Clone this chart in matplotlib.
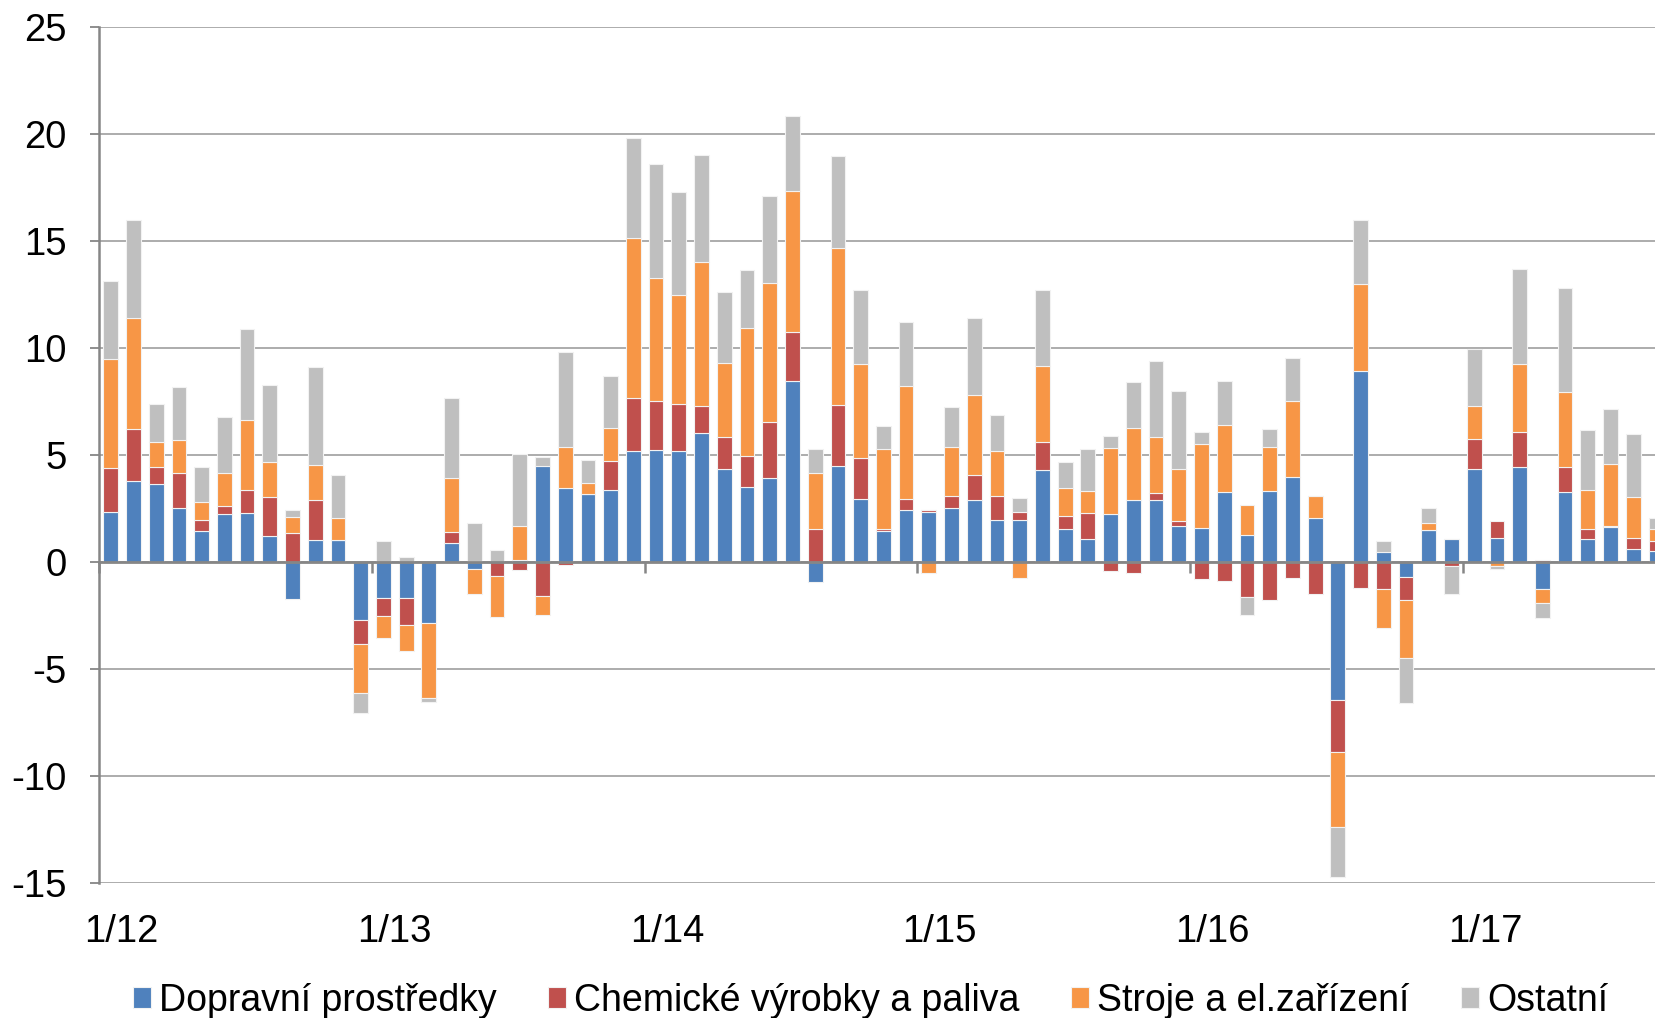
import numpy as np
import matplotlib
matplotlib.use("Agg")
import matplotlib.pyplot as plt
from matplotlib.transforms import blended_transform_factory

plt.rcParams["font.family"] = ["Liberation Sans", "DejaVu Sans"]
plt.rcParams["axes.unicode_minus"] = False

# monthly contributions, 1/12 .. 9/17
dopravni = [2.33, 3.78, 3.63, 2.50, 1.45, 2.23, 2.27, 1.22, -1.74, 1.01, 1.03, -2.73,
            -1.68, -1.72, -2.88, 0.88, -0.36, 0.0, 0.08, 4.47, 3.44, 3.17, 3.36, 5.19,
            5.23, 5.19, 6.03, 4.33, 3.49, 3.91, 8.45, -0.97, 4.48, 2.94, 1.45, 2.42,
            2.33, 2.52, 2.90, 1.93, 1.97, 4.29, 1.53, 1.07, 2.23, 2.90, 2.90, 1.68,
            1.56, 3.26, 1.24, 3.32, 3.97, 2.04, -6.48, 8.91, 0.46, -0.73, 1.49, 1.05,
            4.31, 1.11, 4.43, -1.30, 3.26, 1.05, 1.64, 0.59, 0.48]
chemicke = [2.06, 2.42, 0.80, 1.64, 0.50, 0.35, 1.07, 1.81, 1.34, 1.87, 0.0, -1.11,
            -0.86, -1.26, 0.0, 0.51, 0.05, -0.65, -0.38, -1.60, -0.17, 0.0, 1.35, 2.44,
            2.27, 2.20, 1.24, 1.49, 1.47, 2.60, 2.31, 1.53, 2.85, 1.91, 0.08, 0.50,
            0.07, 0.55, 1.16, 1.16, 0.36, 1.30, 0.61, 1.20, -0.44, -0.55, 0.31, 0.23,
            -0.80, -0.92, -1.66, -1.79, -0.76, -1.49, -2.41, -1.23, -1.29, -1.08, 0.0, -0.21,
            1.42, 0.78, 1.64, 0.06, 1.19, 0.50, 0.04, 0.52, 0.47]
stroje = [5.08, 5.19, 1.16, 1.53, 0.84, 1.56, 3.28, 1.61, 0.74, 1.64, 0.99, -2.32,
          -1.03, -1.18, -3.51, 2.54, -1.15, -1.95, 1.58, -0.88, 1.94, 0.53, 1.53, 7.52,
          5.76, 5.07, 6.72, 3.49, 5.96, 6.52, 6.55, 2.63, 7.35, 4.39, 3.74, 5.29,
          -0.52, 2.29, 3.75, 2.10, -0.76, 3.55, 1.31, 1.03, 3.09, 3.36, 2.61, 2.42,
          3.94, 3.13, 1.39, 2.04, 3.55, 1.05, -3.51, 4.05, -1.83, -2.70, 0.32, 0.0,
          1.54, -0.21, 3.15, -0.61, 3.49, 1.79, 2.90, 1.92, 0.58]
ostatni = [3.64, 4.60, 1.80, 2.52, 1.62, 2.63, 4.28, 3.60, 0.34, 4.60, 2.01, -0.90,
           0.99, 0.23, -0.17, 3.70, 1.75, 0.55, 3.38, 0.43, 4.41, 1.05, 2.44, 4.66,
           5.33, 4.83, 5.04, 3.32, 2.72, 4.09, 3.53, 1.13, 4.29, 3.45, 1.08, 2.99,
           0.0, 1.89, 3.58, 1.68, 0.65, 3.55, 1.19, 1.97, 0.54, 2.12, 3.57, 3.65,
           0.57, 2.05, -0.82, 0.84, 2.02, 0.0, -2.32, 3.03, 0.49, -2.12, 0.71, -1.28,
           2.67, -0.15, 4.46, -0.72, 4.87, 2.82, 2.54, 2.92, 0.53]

series_names = ["Dopravní prostředky", "Chemické výrobky a paliva",
                "Stroje a el.zařízení", "Ostatní"]
colors = ["#4F81BD", "#C0504D", "#F79646", "#BFBFBF"]
year_labels = ["1/12", "1/13", "1/14", "1/15", "1/16", "1/17"]

fs = 27.5

fig = plt.figure(figsize=(16.56, 10.18), dpi=100)
ax = fig.add_axes([0.060, 0.1331, 0.940, 0.8404])

x = np.arange(len(dopravni))
pos_base = np.zeros(len(x))
neg_base = np.zeros(len(x))
for vals, name, col in zip([dopravni, chemicke, stroje, ostatni], series_names, colors):
    v = np.array(vals)
    base = np.where(v >= 0, pos_base, neg_base)
    ax.bar(x, v, bottom=base, width=0.65, color=col, edgecolor="#f2f2f2",
           linewidth=0.8, label=name, zorder=3)
    pos_base += np.where(v > 0, v, 0)
    neg_base += np.where(v < 0, v, 0)

ax.set_xlim(-0.5, 68.0)
ax.set_ylim(-15, 25)
ax.set_yticks(np.arange(-15, 26, 5))
ax.yaxis.grid(True, color="#A6A6A6", linewidth=1.3, zorder=0)
ax.set_axisbelow(True)

for s in ["top", "right"]:
    ax.spines[s].set_visible(False)
ax.spines["left"].set_color("#868686")
ax.spines["left"].set_linewidth(1.8)
ax.spines["bottom"].set_position(("data", 0))
ax.spines["bottom"].set_color("#868686")
ax.spines["bottom"].set_linewidth(2.0)
ax.spines["bottom"].set_zorder(4)

ax.set_xticks(np.arange(-0.5, 60, 12))
ax.tick_params(axis="x", length=8, width=1.8, color="#868686", labelbottom=False)
ax.tick_params(axis="y", length=6.5, width=1.3, color="#868686", pad=17,
               labelsize=fs)

trans = blended_transform_factory(ax.transData, fig.transFigure)
for i, lab in enumerate(year_labels):
    ax.text(i * 12 + 0.48, 0.0840, lab, transform=trans, ha="center",
            va="center", fontsize=fs, clip_on=False)

fig.legend(loc="center", bbox_to_anchor=(0.5257, 0.0165), ncol=4, frameon=False,
           fontsize=27, handlelength=0.48, handleheight=0.48, handletextpad=0.21,
           columnspacing=1.38)

fig.savefig("out.png", dpi=100)
